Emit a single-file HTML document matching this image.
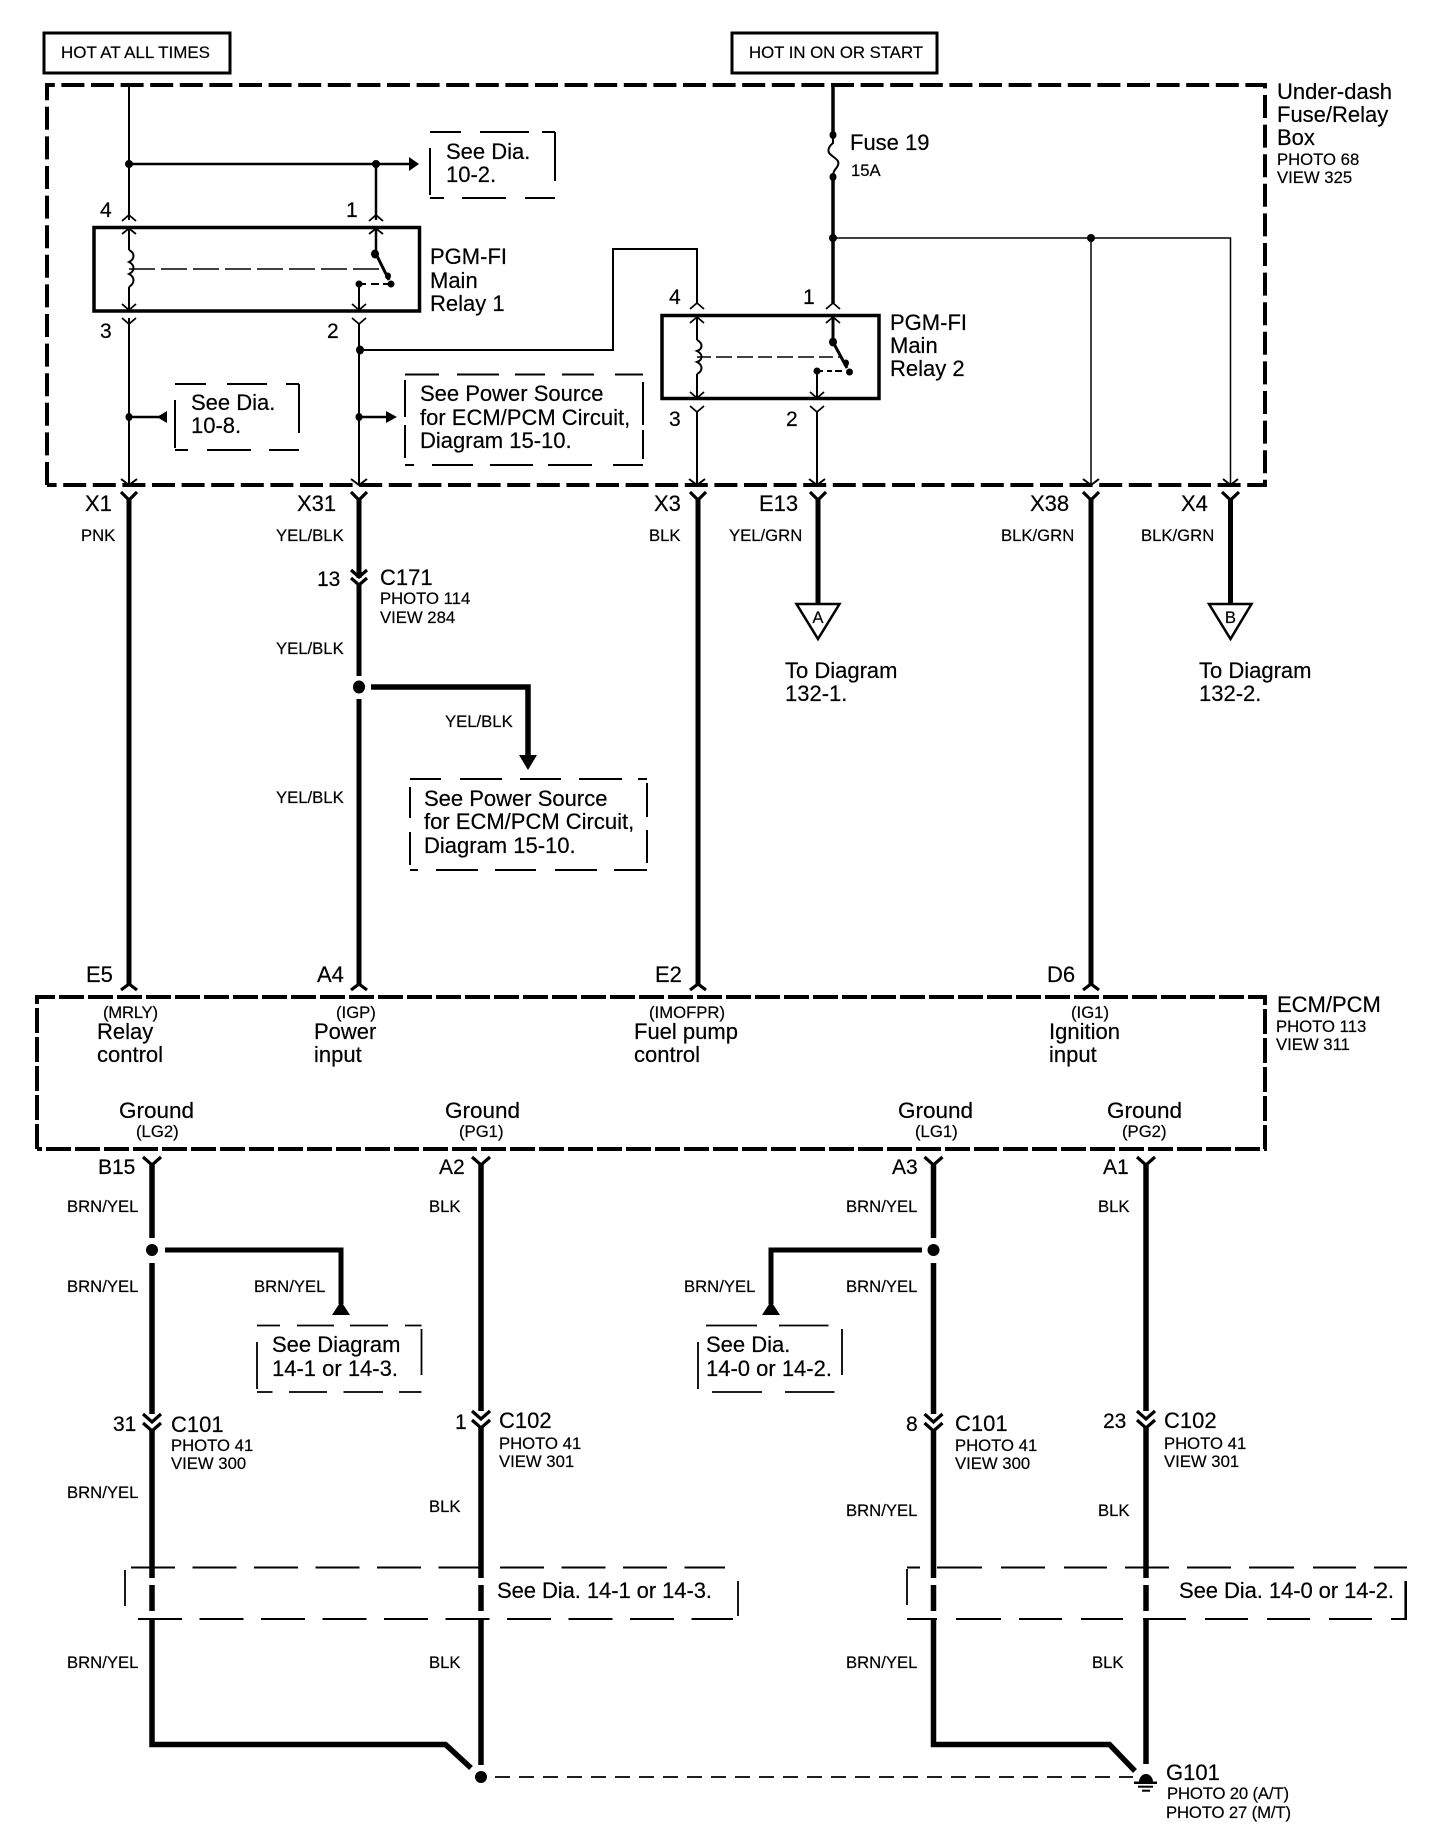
<!DOCTYPE html>
<html>
<head>
<meta charset="utf-8">
<style>
html,body{margin:0;padding:0;background:#fff}
svg{display:block}
text{font-family:"Liberation Sans",sans-serif;fill:#000;stroke:#000;stroke-width:.2}
.l{font-size:22px}
.m{font-size:21px}
.s{font-size:16.7px}
.h{font-size:17px}
.g{font-size:22.5px}
path,line{fill:none;stroke:#000}
.f{fill:#000;stroke:none}
</style>
</head>
<body>
<svg width="1456" height="1846" viewBox="0 0 1456 1846" xmlns="http://www.w3.org/2000/svg">
<rect width="1456" height="1846" fill="#fff"/>

<!-- header boxes -->
<rect x="44" y="33" width="186" height="40" fill="none" stroke="#000" stroke-width="3"/>
<rect x="732" y="33" width="205" height="40" fill="none" stroke="#000" stroke-width="3"/>
<text class="h" x="61" y="58" textLength="149" lengthAdjust="spacingAndGlyphs">HOT AT ALL TIMES</text>
<text class="h" x="749" y="58" textLength="174" lengthAdjust="spacingAndGlyphs">HOT IN ON OR START</text>

<!-- main dashed boxes -->
<path d="M47 485 V85 H1265 V485 H47" stroke-width="4" stroke-dasharray="23 6.6"/>
<path d="M37 1149 V997 H1265 V1149 H37" stroke-width="4" stroke-dasharray="25 4"/>

<!-- relay boxes -->
<rect x="94" y="227.5" width="325.500" height="83.500" fill="none" stroke="#000" stroke-width="3.500"/>
<rect x="662" y="315.500" width="217" height="83" fill="none" stroke="#000" stroke-width="3.500"/>

<!-- top left wires -->
<path d="M129 85 V220 M129 229 V250 M129 287 V310 M129 318 V485" stroke-width="2"/>
<path d="M129 164 H410" stroke-width="2.500"/>
<path d="M376 164 V220 M376 229 V254" stroke-width="2.500"/>
<path class="f" d="M409 157 L419 164 L409 171 Z"/>
<ellipse class="f" cx="129" cy="164" rx="4" ry="4"/>
<ellipse class="f" cx="376" cy="164" rx="4" ry="4"/>
<path d="M122 221 L129 215 L136 221 M122 234 L129 228.500 L136 234 M369 221 L376 215 L383 221 M369 234 L376 228.500 L383 234" stroke-width="1.800"/>
<path d="M122 304 L129 310 L136 304 M122 318 L129 324 L136 318 M352 304 L359 310 L366 304 M352 318 L359 324 L366 318" stroke-width="1.800"/>
<!-- relay 1 inner -->
<path d="M129 250 C135 253 135 259 129 262 C135 265 135 271 129 274 C135 277 135 283 129 287" stroke-width="2"/>
<path d="M129 269 H383" stroke-width="1.500" stroke-dasharray="26 6"/>
<path d="M376 254 L389 280" stroke-width="3"/>
<ellipse class="f" cx="375" cy="254" rx="4" ry="4.500"/>
<ellipse class="f" cx="388" cy="276" rx="3" ry="3.500"/>
<ellipse class="f" cx="391" cy="284" rx="3.500" ry="3.500"/>
<ellipse class="f" cx="359" cy="284" rx="3.500" ry="3.500"/>
<path d="M359 284 H391" stroke-width="2" stroke-dasharray="7 5 8 4 8"/>
<path d="M359 284 V310 M359 324 V485" stroke-width="2"/>
<ellipse class="f" cx="360" cy="350" rx="4" ry="4.500"/>
<path d="M360 350 H613 V249 H697 V303" stroke-width="2"/>

<!-- branch arrows -->
<ellipse class="f" cx="129" cy="417" rx="3.500" ry="4"/>
<path d="M129 417 H160" stroke-width="2.500"/>
<path class="f" d="M157 417 L167 411 V423 Z"/>
<ellipse class="f" cx="359" cy="417" rx="3.500" ry="4"/>
<path d="M359 417 H388" stroke-width="2.500"/>
<path class="f" d="M397 417 L386 411 V423 Z"/>

<!-- see boxes -->
<path d="M430 132 H461 M480 132 H529 M542 132 H555 M555 132 V181 M430 148 V195 M430 198 H444 M462 198 H506 M525 198 H555" stroke-width="2"/>
<path d="M175 384 H206 M227 384 H267 M286 384 H299 M299 384 V433 M175 400 V448 M175 450 H188 M207 450 H251 M269 450 H299" stroke-width="2"/>
<path d="M405 374.500 H439 M457 374.500 H499 M515 374.500 H545 M562 374.500 H594 M615 374.500 H643 M643 382 V425 M643 430 V459 M405 380 V417 M405 425 V458 M405 465 H414 M432 465 H473 M490 465 H533 M548 465 H592 M613 465 H643" stroke-width="2"/>
<path d="M410 779 H441 M460 779 H502 M520 779 H561 M579 779 H622 M638 779 H647 M647 783 V817 M647 830 V863 M410 787 V818 M410 832 V865 M410 870 H418 M436 870 H478 M495 870 H536 M555 870 H597 M614 870 H647" stroke-width="2"/>

<text class="l" x="446" y="159">See Dia.</text>
<text class="l" x="446" y="182">10-2.</text>
<text class="l" x="191" y="410">See Dia.</text>
<text class="l" x="191" y="433">10-8.</text>
<text class="l" x="420" y="401">See Power Source</text>
<text class="l" x="420" y="425">for ECM/PCM Circuit,</text>
<text class="l" x="420" y="448">Diagram 15-10.</text>
<text class="l" x="424" y="806">See Power Source</text>
<text class="l" x="424" y="829">for ECM/PCM Circuit,</text>
<text class="l" x="424" y="853">Diagram 15-10.</text>

<text class="l" x="430" y="264">PGM-FI</text>
<text class="l" x="430" y="288">Main</text>
<text class="l" x="430" y="311">Relay 1</text>
<text class="l" x="890" y="330">PGM-FI</text>
<text class="l" x="890" y="353">Main</text>
<text class="l" x="890" y="376">Relay 2</text>

<text class="m" x="100" y="217">4</text>
<text class="m" x="346" y="217">1</text>
<text class="m" x="100" y="338">3</text>
<text class="m" x="327" y="338">2</text>
<text class="m" x="669" y="304">4</text>
<text class="m" x="803" y="304">1</text>
<text class="m" x="669" y="426">3</text>
<text class="m" x="786" y="426">2</text>

<text class="l" x="1277" y="99">Under-dash</text>
<text class="l" x="1277" y="122">Fuse/Relay</text>
<text class="l" x="1277" y="145">Box</text>
<text class="s" x="1277" y="165">PHOTO 68</text>
<text class="s" x="1277" y="183">VIEW 325</text>

<!-- right top wires -->
<path d="M833 85 V135 M833 177 V303" stroke-width="3.500"/>
<path d="M833 135 V143 C827 148 828 152 830 154 C834 158 840 160 838 165 C837 169 833 169 833 177" stroke-width="2"/>
<ellipse class="f" cx="833" cy="135" rx="3.500" ry="4"/>
<ellipse class="f" cx="833" cy="177" rx="3.500" ry="4"/>
<text class="l" x="850" y="150">Fuse 19</text>
<text class="s" x="851" y="176">15A</text>
<ellipse class="f" cx="833" cy="238" rx="4" ry="4"/>
<ellipse class="f" cx="1091" cy="238" rx="4" ry="4"/>
<path d="M833 238 H1230.500 V485 M1091 238 V485" stroke-width="1.500"/>

<!-- relay 2 inner -->
<path d="M690 309 L697 303 L704 309 M690 323 L697 317 L704 323 M826 309 L833 303 L840 309 M826 323 L833 317 L840 323" stroke-width="1.800"/>
<path d="M690 392 L697 398 L704 392 M690 406 L697 412 L704 406 M810 392 L817 398 L824 392 M810 406 L817 412 L824 406" stroke-width="1.800"/>
<path d="M697 317 V340 M697 374 V398 M697 412 V485 M817 371 V398 M817 412 V485" stroke-width="2"/>
<path d="M833 317 V342" stroke-width="3"/>
<path d="M697 340 C703 343 703 349 697 351 C703 354 703 360 697 362 C703 365 703 371 697 374" stroke-width="2"/>
<path d="M697 357 H840" stroke-width="1.500" stroke-dasharray="14 5 16 5 16 5"/>
<path d="M833 342 L847 368" stroke-width="3"/>
<ellipse class="f" cx="833" cy="342" rx="4" ry="4.500"/>
<ellipse class="f" cx="846" cy="363" rx="3" ry="3.500"/>
<ellipse class="f" cx="849.500" cy="372" rx="3.500" ry="3.500"/>
<ellipse class="f" cx="817" cy="371" rx="3.500" ry="3.500"/>
<path d="M817 371 H849" stroke-width="2" stroke-dasharray="6 4 5 3 7"/>

<!-- box bottom arrows -->
<path d="M121 479 L129 485 L137 479 M351 479 L359 485 L367 479 M689 479 L697 485 L705 479 M809 479 L817 485 L825 479 M1083 479 L1091 485 L1099 479 M1223 479 L1230.500 485 L1238 479" stroke-width="2"/>

<!-- thick lines upper -->
<path d="M129 498 V985 M359 498 V578 M359 585 V676 M359 699 V985 M698 498 V985 M818 498 V603 M1091 498 V985 M1230.500 498 V603" stroke-width="5"/>
<path d="M121 492 L129 500 L137 492 M351 492 L359 500 L367 492 M690 492 L698 500 L706 492 M810 492 L818 500 L826 492 M1083 492 L1091 500 L1099 492 M1222 492 L1230.500 500 L1239 492" stroke-width="3.200"/>
<path d="M121 990 L129 984 L137 990 M351 990 L359 984 L367 990 M690 990 L698 984 L706 990 M1083 990 L1091 984 L1099 990" stroke-width="3.200"/>
<path d="M351 570 L359 577 L367 570 M351 578 L359 585 L367 578" stroke-width="3.200"/>
<ellipse class="f" cx="359" cy="687" rx="6" ry="6.500"/>
<path d="M371 687 H528 V757" stroke-width="5.500"/>
<path class="f" d="M519 755 H537 L528 770 Z"/>

<!-- connector triangles -->
<path d="M796.500 604 H839.500 L818 639 Z" stroke-width="2.500"/>
<path d="M1209 604 H1251.500 L1230.500 639 Z" stroke-width="2.500"/>
<text class="s" x="818" y="623" text-anchor="middle">A</text>
<text class="s" x="1230.500" y="623" text-anchor="middle">B</text>
<text class="l" x="785" y="678">To Diagram</text>
<text class="l" x="785" y="701">132-1.</text>
<text class="l" x="1199" y="678">To Diagram</text>
<text class="l" x="1199" y="701">132-2.</text>

<!-- upper labels -->
<text class="l" x="85" y="511">X1</text>
<text class="l" x="297" y="511">X31</text>
<text class="l" x="654" y="511">X3</text>
<text class="l" x="759" y="511">E13</text>
<text class="l" x="1030" y="511">X38</text>
<text class="l" x="1181" y="511">X4</text>
<text class="s" x="81" y="541">PNK</text>
<text class="s" x="276" y="541">YEL/BLK</text>
<text class="s" x="649" y="541">BLK</text>
<text class="s" x="729" y="541">YEL/GRN</text>
<text class="s" x="1001" y="541">BLK/GRN</text>
<text class="s" x="1141" y="541">BLK/GRN</text>
<text class="m" x="317" y="586">13</text>
<text class="l" x="380" y="585">C171</text>
<text class="s" x="380" y="604">PHOTO 114</text>
<text class="s" x="380" y="623">VIEW 284</text>
<text class="s" x="276" y="654">YEL/BLK</text>
<text class="s" x="445" y="727">YEL/BLK</text>
<text class="s" x="276" y="803">YEL/BLK</text>
<text class="l" x="86" y="982">E5</text>
<text class="l" x="317" y="982">A4</text>
<text class="l" x="655" y="982">E2</text>
<text class="l" x="1047" y="982">D6</text>

<!-- ECM labels -->
<text class="s" x="103" y="1018" textLength="55">(MRLY)</text>
<text class="s" x="336" y="1018">(IGP)</text>
<text class="s" x="649" y="1018">(IMOFPR)</text>
<text class="s" x="1071" y="1018">(IG1)</text>
<text class="l" x="97" y="1039">Relay</text>
<text class="l" x="97" y="1062">control</text>
<text class="l" x="314" y="1039">Power</text>
<text class="l" x="314" y="1062">input</text>
<text class="l" x="634" y="1039">Fuel pump</text>
<text class="l" x="634" y="1062">control</text>
<text class="l" x="1049" y="1039">Ignition</text>
<text class="l" x="1049" y="1062">input</text>
<text class="l" x="1277" y="1012">ECM/PCM</text>
<text class="s" x="1276" y="1032">PHOTO 113</text>
<text class="s" x="1276" y="1050">VIEW 311</text>
<text class="g" x="119" y="1118">Ground</text>
<text class="s" x="136" y="1137">(LG2)</text>
<text class="g" x="445" y="1118">Ground</text>
<text class="s" x="459" y="1137">(PG1)</text>
<text class="g" x="898" y="1118">Ground</text>
<text class="s" x="915" y="1137">(LG1)</text>
<text class="g" x="1107" y="1118">Ground</text>
<text class="s" x="1122" y="1137">(PG2)</text>

<!-- lower wires -->
<path d="M152 1165 V1238 M152 1263 V1414 M152 1430 V1578 M152 1585 V1611 M152 1619 V1744.500 H445.500 L471 1768" stroke-width="5.500"/>
<path d="M481 1165 V1411 M481 1427 V1578 M481 1585 V1611 M481 1619 V1765" stroke-width="5.500"/>
<path d="M933.500 1165 V1238 M933.500 1263 V1414 M933.500 1430 V1578 M933.500 1585 V1611 M933.500 1619 V1744.500 H1109.500 L1135 1771" stroke-width="5.500"/>
<path d="M1146 1165 V1411 M1146 1427 V1578 M1146 1585 V1611 M1146 1619 V1764" stroke-width="5.500"/>
<path d="M143 1157 L152 1165 L161 1157 M472 1157 L481 1165 L490 1157 M924.500 1157 L933.500 1165 L942.500 1157 M1137 1157 L1146 1165 L1155 1157" stroke-width="3.200"/>
<path d="M143 1414 L152 1422 L161 1414 M143 1423 L152 1431 L161 1423 M472 1411 L481 1419 L490 1411 M472 1420 L481 1428 L490 1420 M924.500 1414 L933.500 1422 L942.500 1414 M924.500 1423 L933.500 1431 L942.500 1423 M1137 1411 L1146 1419 L1155 1411 M1137 1420 L1146 1428 L1155 1420" stroke-width="3.200"/>

<!-- branches lower -->
<circle class="f" cx="152" cy="1250" r="6"/>
<circle class="f" cx="933.500" cy="1250" r="6"/>
<path d="M165 1250 H341 V1304" stroke-width="5"/>
<path d="M922 1250 H771 V1304" stroke-width="5"/>
<path class="f" d="M341 1301 L350 1315 H332 Z"/>
<path class="f" d="M771 1301 L780 1315 H762 Z"/>

<path d="M257 1325.500 H280 M297 1325.500 H334 M350 1325.500 H388 M405 1325.500 H421.500 M421.500 1329 V1375 M257 1342 V1389 M257 1392 H272.500 M289 1392 H327 M343.500 1392 H383 M399 1392 H421.500" stroke-width="1.800"/>
<path d="M706 1325.500 H757 M779 1325.500 H828.500 M842 1329 V1375 M698 1342 V1389 M712 1392 H762 M785 1392 H834.500" stroke-width="1.800"/>
<text class="l" x="272" y="1352">See Diagram</text>
<text class="l" x="272" y="1376">14-1 or 14-3.</text>
<text class="l" x="706" y="1352">See Dia.</text>
<text class="l" x="706" y="1376">14-0 or 14-2.</text>

<!-- lower dashed -->
<path d="M125 1570 V1606" stroke-width="1.800"/>
<path d="M131 1567.500 H725" stroke-width="2" stroke-dasharray="44 17.500"/>
<path d="M138 1619 H733" stroke-width="2" stroke-dasharray="44 17.500"/>
<path d="M738 1581 V1616" stroke-width="1.800"/>
<path d="M907 1567.500 H920 M937 1567.500 H982 M1001 1567.500 H1045 M1064 1567.500 H1107 M1125 1567.500 H1169 M1187 1567.500 H1231 M1249 1567.500 H1294 M1313 1567.500 H1356 M1374 1567.500 H1407" stroke-width="2"/>
<path d="M907 1619 H937 M956 1619 H1001 M1019 1619 H1062 M1081 1619 H1123 M1143 1619 H1186 M1205 1619 H1248 M1267 1619 H1310 M1329 1619 H1372 M1391 1619 H1407" stroke-width="2"/>
<path d="M907 1569 V1605" stroke-width="1.800"/>
<path d="M1405.700 1581 V1618" stroke-width="2.600"/>
<text class="l" x="497" y="1598" textLength="215">See Dia. 14-1 or 14-3.</text>
<text class="l" x="1179" y="1598" textLength="215">See Dia. 14-0 or 14-2.</text>

<!-- lower labels -->
<text class="m" x="98" y="1174">B15</text>
<text class="m" x="439" y="1174">A2</text>
<text class="m" x="892" y="1174">A3</text>
<text class="m" x="1103" y="1174">A1</text>
<text class="s" x="67" y="1212">BRN/YEL</text>
<text class="s" x="429" y="1212">BLK</text>
<text class="s" x="846" y="1212">BRN/YEL</text>
<text class="s" x="1098" y="1212">BLK</text>
<text class="s" x="67" y="1292">BRN/YEL</text>
<text class="s" x="254" y="1292">BRN/YEL</text>
<text class="s" x="846" y="1292">BRN/YEL</text>
<text class="s" x="684" y="1292">BRN/YEL</text>

<text class="m" x="113" y="1431">31</text>
<text class="l" x="171" y="1432">C101</text>
<text class="s" x="171" y="1451">PHOTO 41</text>
<text class="s" x="171" y="1469">VIEW 300</text>
<text class="m" x="455" y="1429">1</text>
<text class="l" x="499" y="1428">C102</text>
<text class="s" x="499" y="1449">PHOTO 41</text>
<text class="s" x="499" y="1467">VIEW 301</text>
<text class="m" x="906" y="1431">8</text>
<text class="l" x="955" y="1431">C101</text>
<text class="s" x="955" y="1451">PHOTO 41</text>
<text class="s" x="955" y="1469">VIEW 300</text>
<text class="m" x="1103" y="1428">23</text>
<text class="l" x="1164" y="1428">C102</text>
<text class="s" x="1164" y="1449">PHOTO 41</text>
<text class="s" x="1164" y="1467">VIEW 301</text>

<text class="s" x="67" y="1498">BRN/YEL</text>
<text class="s" x="429" y="1512">BLK</text>
<text class="s" x="846" y="1516">BRN/YEL</text>
<text class="s" x="1098" y="1516">BLK</text>
<text class="s" x="67" y="1668">BRN/YEL</text>
<text class="s" x="429" y="1668">BLK</text>
<text class="s" x="846" y="1668">BRN/YEL</text>
<text class="s" x="1092" y="1668">BLK</text>

<!-- ground -->
<circle class="f" cx="481" cy="1777" r="6"/>
<path d="M495 1777 H1133" stroke-width="1.800" stroke-dasharray="15 9"/>
<path class="f" d="M1139 1782 A7 8 0 0 1 1153 1782 Z"/>
<path d="M1134 1782.700 H1157" stroke-width="2.500"/>
<path d="M1138 1786.700 H1153" stroke-width="2"/>
<path d="M1142 1790.700 H1150" stroke-width="2"/>
<text class="l" x="1166" y="1780">G101</text>
<text class="s" x="1167" y="1799" textLength="122">PHOTO 20 (A/T)</text>
<text class="s" x="1166" y="1818" textLength="125">PHOTO 27 (M/T)</text>
</svg>
</body>
</html>
